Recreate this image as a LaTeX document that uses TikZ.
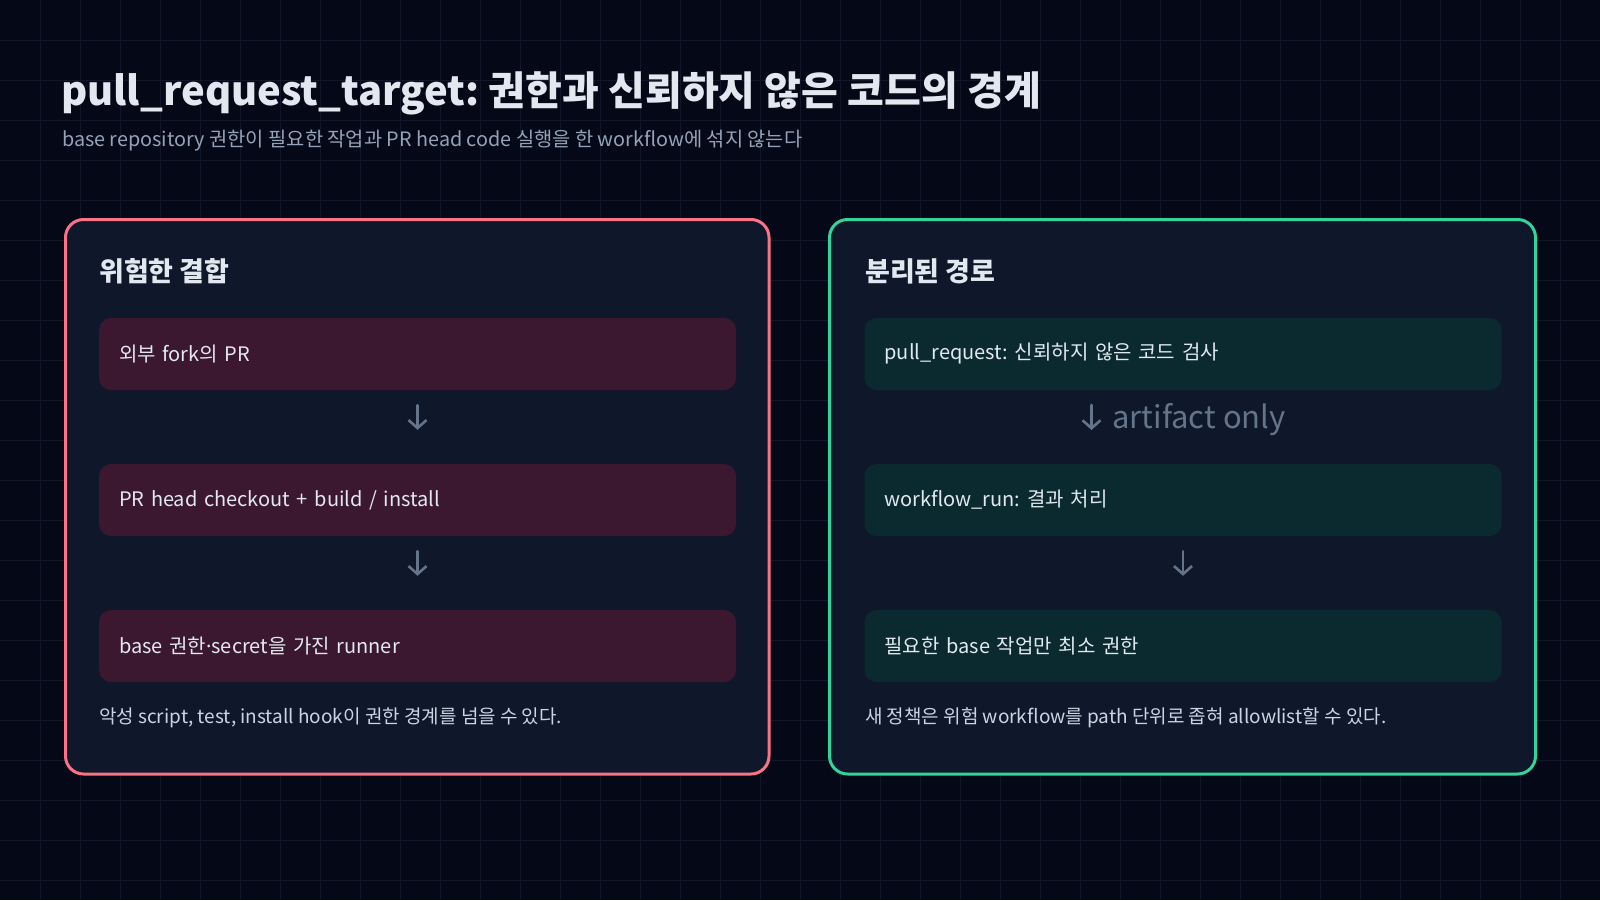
\documentclass[tikz,border=0pt]{standalone}
\usepackage{fontspec}
\setmainfont{Noto Sans CJK KR}
\newfontfamily\latinfont{Noto Sans}
\usetikzlibrary{positioning,arrows.meta}
\frenchspacing

\definecolor{bgdark}{HTML}{050816}
\definecolor{gridcol}{HTML}{111729}
\definecolor{panelfill}{HTML}{0F172A}
\definecolor{roseline}{HTML}{FB7185}
\definecolor{greenline}{HTML}{34D399}
\definecolor{rosecard}{HTML}{3B1830}
\definecolor{tealcard}{HTML}{0B2A2F}
\definecolor{headtext}{HTML}{E2E8F0}
\definecolor{subtext}{HTML}{94A3B8}
\definecolor{arrowtext}{HTML}{64748B}
\definecolor{notetext}{HTML}{CBD5E1}

\begin{document}
\begin{tikzpicture}[x=1pt,y=-1pt,
  gridline/.style={draw=gridcol,line width=1pt},
  panel/.style={fill=panelfill,line width=3pt,rounded corners=18pt},
  panelhead/.style={anchor=base west,text=headtext,inner sep=0pt,font=\fontsize{27}{32}\selectfont\bfseries},
  stepcard/.style={rounded corners=12pt,minimum width=637pt,minimum height=72pt,text width=597pt,
    inner xsep=20pt,inner ysep=0pt,align=left,text=headtext,font=\fontsize{20}{24}\selectfont},
  flowline/.style={draw=arrowtext,line width=2.6pt,line cap=round,line join=round,
    -{Straight Barb[length=8pt,width=18pt]},shorten <=15pt,shorten >=34pt},
  flowlabel/.style={anchor=base,text=arrowtext,inner sep=0pt,font=\fontsize{31}{36}\selectfont},
  note/.style={anchor=west,text=notetext,inner sep=0pt,font=\fontsize{19}{23}\selectfont}]

\useasboundingbox (0,0) rectangle (1600,900);
\fill[bgdark] (0,0) rectangle (1600,900);
\foreach \gx in {40,80,...,1560} \draw[gridline] (\gx,0) -- (\gx,900);
\foreach \gy in {40,80,...,880} \draw[gridline] (0,\gy) -- (1600,\gy);

\node[anchor=base west,inner sep=0pt,text=headtext,font=\fontsize{40}{48}\selectfont\bfseries] (title) at (61,105)
  {pull\_request\_target: 권한과 신뢰하지 않은 코드의 경계};
\node[anchor=base west,inner sep=0pt,text=subtext,font=\fontsize{19.8}{24}\selectfont] (subtitle) at (62,146)
  {base repository 권한이 필요한 작업과 PR head code 실행을 한 workflow에 섞지 않는다};

\draw[panel,draw=roseline] (65.5,219.5) rectangle (769,774);
\draw[panel,draw=greenline] (829.5,219.5) rectangle (1535.5,774);

\node[panelhead] (riskhead) at (99,281) {위험한 결합};
\node[panelhead] (safehead) at (865,281) {분리된 경로};

\node[stepcard,fill=rosecard] (fork) at (417.5,354) {외부 fork의 PR};
\node[stepcard,fill=rosecard] (checkout) at (417.5,500) {PR head checkout + build / install};
\node[stepcard,fill=rosecard] (runner) at (417.5,646) {base 권한{\latinfont ·}secret을 가진 runner};

\node[stepcard,fill=tealcard] (prcheck) at (1183,354) {pull\_request: 신뢰하지 않은 코드 검사};
\node[stepcard,fill=tealcard] (wfrun) at (1183,500) {workflow\_run: 결과 처리};
\node[stepcard,fill=tealcard] (minperm) at (1183,646) {필요한 base 작업만 최소 권한};

\draw[flowline] (fork) -- (checkout);
\draw[flowline] (checkout) -- (runner);
\draw[flowline] (wfrun) -- (minperm);

\node[flowlabel] (artifact) at (1199,428) {artifact only};
\coordinate (artifacttop) at (1091.5,405);
\coordinate (artifacttip) at (1091.5,430);
\draw[flowline,shorten <=0pt,shorten >=0pt] (artifacttop) -- (artifacttip);

\node[note] (risknote) at (99,718) {악성 script, test, install hook이 권한 경계를 넘을 수 있다.};
\node[note] (safenote) at (865,718) {새 정책은 위험 workflow를 path 단위로 좁혀 allowlist할 수 있다.};

\end{tikzpicture}
\end{document}
